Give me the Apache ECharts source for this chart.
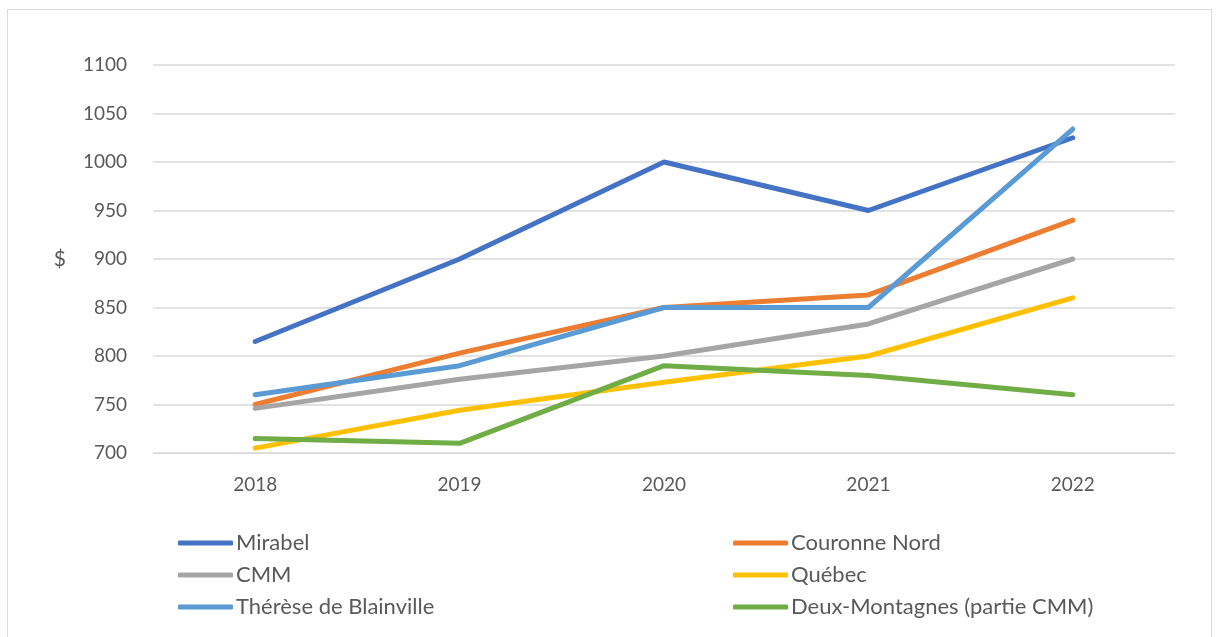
<!DOCTYPE html>
<html>
<head>
<meta charset="utf-8">
<script src="https://cdn.jsdelivr.net/npm/echarts@6/dist/echarts.min.js"></script>
<style>html,body{margin:0;padding:0;background:#fff}#c{width:1217px;height:637px}</style>
</head>
<body>
<div id="c"></div>
<script>
const years = ['2018','2019','2020','2021','2022'];
const yTicks = [700,750,800,850,900,950,1000,1050,1100];
const mirabel = [815, 900, 1000, 950, 1025];
const couronneNord = [750, 803, 850, 863, 940];
const cmm = [746, 776, 800, 833, 900];
const quebec = [705, 744, 773, 800, 860];
const therese = [760, 790, 850, 850, 1034];
const deuxMontagnes = [715, 710, 790, 780, 760];
const seriesNames = ['Mirabel','Couronne Nord','CMM','Québec','Thérèse de Blainville','Deux-Montagnes (partie CMM)'];
const seriesData = [mirabel, couronneNord, cmm, quebec, therese, deuxMontagnes];
const colors = ['#4472C4','#ED7D31','#A5A5A5','#FFC000','#5B9BD5','#70AD47'];

const font = 'Lato, "Open Sans", sans-serif';
const chart = echarts.init(document.getElementById('c'));
const legendBase = {
  orient: 'vertical', top: 532, itemWidth: 55, itemHeight: 5, itemGap: 10, padding: 0,
  icon: 'roundRect',
  textStyle: {fontFamily: font, fontSize: 22, color: '#595959', padding: [0,0,0,-2]}
};
chart.setOption({
  animation: false,
  color: colors,
  graphic: [{type: 'rect', shape: {x: 7.5, y: 9.5, width: 1204, height: 640}, style: {fill: 'none', stroke: '#d9d9d9', lineWidth: 1}}],
  grid: {left: 153, right: 42, top: 65, bottom: 184},
  legend: [
    Object.assign({}, legendBase, {left: 178, data: [seriesNames[0], seriesNames[2], seriesNames[4]]}),
    Object.assign({}, legendBase, {left: 733, data: [seriesNames[1], seriesNames[3], seriesNames[5]]})
  ],
  xAxis: {
    type: 'category', data: years, boundaryGap: true,
    axisLine: {lineStyle: {color: '#d9d9d9'}}, axisTick: {show: false},
    axisLabel: {fontFamily: font, fontSize: 19, color: '#595959', margin: 22}
  },
  yAxis: {
    type: 'value', min: yTicks[0], max: yTicks[yTicks.length-1], interval: 50,
    name: '$', nameLocation: 'middle', nameGap: 87, nameRotate: 0,
    nameTextStyle: {fontFamily: font, fontSize: 21, color: '#595959'},
    axisLine: {show: false}, axisTick: {show: false},
    axisLabel: {fontFamily: font, fontSize: 19, color: '#595959', margin: 26, formatter: v => String(v)},
    splitLine: {lineStyle: {color: '#d9d9d9', width: 1.5}}
  },
  series: seriesNames.map((n, i) => ({
    name: n, type: 'line', data: seriesData[i], symbol: 'none',
    lineStyle: {width: 5, color: colors[i], cap: 'round', join: 'round'},
    itemStyle: {color: colors[i]}
  }))
});
</script>
</body>
</html>
